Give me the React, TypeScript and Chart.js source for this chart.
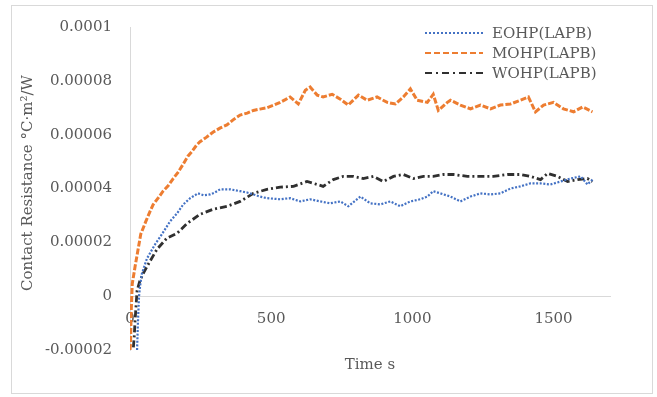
import React, { useEffect, useRef } from 'react';
import { Chart, registerables } from 'chart.js';

Chart.register(...registerables);

// Time (s) and contact resistance (°C·m²/W)
const timeEOHP = [25, 28, 32, 36, 42, 60, 89, 113, 142, 167, 188, 213, 241, 260, 284, 300, 319, 355, 390, 415, 437, 460, 485, 532, 567, 603, 638, 674, 709, 745, 773, 816, 851, 887, 922, 957, 993, 1028, 1053, 1074, 1099, 1135, 1170, 1206, 1241, 1277, 1312, 1348, 1383, 1418, 1454, 1489, 1525, 1560, 1596, 1620, 1638];
const valuesEOHP = [-2.0e-5, -1.0e-5, 0, 0.4e-5, 0.83e-5, 1.4e-5, 1.93e-5, 2.3e-5, 2.78e-5, 3.08e-5, 3.4e-5, 3.64e-5, 3.82e-5, 3.75e-5, 3.78e-5, 3.85e-5, 3.97e-5, 3.97e-5, 3.9e-5, 3.85e-5, 3.78e-5, 3.7e-5, 3.64e-5, 3.6e-5, 3.64e-5, 3.52e-5, 3.6e-5, 3.52e-5, 3.45e-5, 3.52e-5, 3.34e-5, 3.7e-5, 3.45e-5, 3.41e-5, 3.52e-5, 3.34e-5, 3.52e-5, 3.6e-5, 3.7e-5, 3.9e-5, 3.82e-5, 3.7e-5, 3.52e-5, 3.7e-5, 3.82e-5, 3.78e-5, 3.82e-5, 4.0e-5, 4.08e-5, 4.19e-5, 4.19e-5, 4.15e-5, 4.26e-5, 4.37e-5, 4.45e-5, 4.15e-5, 4.33e-5];

const timeMOHP = [0, 2, 4, 8, 18, 38, 55, 71, 82, 100, 117, 135, 153, 170, 188, 205, 219, 235, 248, 270, 295, 320, 343, 365, 390, 415, 437, 460, 485, 510, 532, 550, 567, 596, 621, 638, 663, 684, 716, 745, 773, 809, 840, 875, 911, 940, 968, 993, 1017, 1053, 1074, 1092, 1124, 1135, 1170, 1206, 1241, 1277, 1312, 1348, 1383, 1411, 1436, 1465, 1500, 1535, 1571, 1603, 1638];
const valuesMOHP = [-2.0e-5, -1.75e-5, -0.65e-5, 0.46e-5, 1.1e-5, 2.3e-5, 2.75e-5, 3.15e-5, 3.4e-5, 3.65e-5, 3.9e-5, 4.1e-5, 4.37e-5, 4.6e-5, 4.9e-5, 5.2e-5, 5.37e-5, 5.6e-5, 5.74e-5, 5.9e-5, 6.1e-5, 6.25e-5, 6.36e-5, 6.55e-5, 6.73e-5, 6.8e-5, 6.9e-5, 6.95e-5, 7.0e-5, 7.1e-5, 7.2e-5, 7.3e-5, 7.4e-5, 7.14e-5, 7.65e-5, 7.77e-5, 7.47e-5, 7.4e-5, 7.5e-5, 7.32e-5, 7.1e-5, 7.47e-5, 7.28e-5, 7.4e-5, 7.2e-5, 7.14e-5, 7.4e-5, 7.7e-5, 7.28e-5, 7.2e-5, 7.5e-5, 6.9e-5, 7.2e-5, 7.28e-5, 7.1e-5, 6.96e-5, 7.1e-5, 6.96e-5, 7.1e-5, 7.14e-5, 7.28e-5, 7.4e-5, 6.85e-5, 7.1e-5, 7.2e-5, 6.96e-5, 6.85e-5, 7.03e-5, 6.85e-5];

const timeWOHP = [12, 15, 18, 25, 35, 46, 71, 96, 131, 167, 202, 248, 295, 344, 390, 437, 485, 532, 579, 627, 663, 684, 720, 755, 791, 826, 862, 897, 933, 968, 1004, 1039, 1074, 1110, 1145, 1195, 1241, 1287, 1337, 1383, 1418, 1454, 1479, 1514, 1550, 1585, 1620, 1638];
const valuesWOHP = [-1.9e-5, -1.5e-5, -0.9e-5, 0.2e-5, 0.57e-5, 0.83e-5, 1.3e-5, 1.75e-5, 2.16e-5, 2.34e-5, 2.7e-5, 3.04e-5, 3.23e-5, 3.34e-5, 3.52e-5, 3.82e-5, 3.97e-5, 4.05e-5, 4.08e-5, 4.26e-5, 4.15e-5, 4.08e-5, 4.33e-5, 4.45e-5, 4.45e-5, 4.37e-5, 4.45e-5, 4.26e-5, 4.45e-5, 4.52e-5, 4.37e-5, 4.45e-5, 4.45e-5, 4.52e-5, 4.52e-5, 4.45e-5, 4.45e-5, 4.45e-5, 4.52e-5, 4.52e-5, 4.45e-5, 4.33e-5, 4.56e-5, 4.45e-5, 4.26e-5, 4.33e-5, 4.37e-5, 4.26e-5];

const seriesNames = ['EOHP(LAPB)', 'MOHP(LAPB)', 'WOHP(LAPB)'];
const xTickValues = [0, 500, 1000, 1500];
const yTickLabels = ['-0.00002', '0', '0.00002', '0.00004', '0.00006', '0.00008', '0.0001'];
const xTitle = 'Time s';
const yTitle = 'Contact Resistance °C·m²/W';

const FONT = '"DejaVu Serif", serif';
const TEXT = '#595959';
const AXIS = '#d9d9d9';

const colors = ['#4472C4', '#ED7D31', '#303030'];
const dashes = [[2, 1.6], [6, 2], [7, 3, 2, 3]];
const widths = [2.2, 3, 2.8];
const legendDashes = [[2, 2], [6, 3], [7, 4, 2, 4]];

const toPoints = (t: number[], v: number[]) => t.map((x, i) => ({ x, y: v[i] }));

const decorPlugin = {
  id: 'decor',
  beforeDraw(chart: any) {
    const ctx = chart.ctx;
    ctx.save();
    ctx.fillStyle = '#ffffff';
    ctx.fillRect(0, 0, chart.width, chart.height);
    ctx.strokeStyle = AXIS;
    ctx.lineWidth = 1;
    ctx.strokeRect(11.5, 5.5, 641, 388);
    ctx.restore();
  },
  afterDraw(chart: any) {
    const ctx = chart.ctx;
    const area = chart.chartArea;
    ctx.save();
    ctx.font = `15px ${FONT}`;
    ctx.fillStyle = TEXT;
    // legend
    seriesNames.forEach((name, i) => {
      const y = 33 + i * 20;
      ctx.save();
      ctx.strokeStyle = colors[i];
      ctx.lineWidth = 2;
      ctx.setLineDash(legendDashes[i]);
      ctx.beginPath();
      ctx.moveTo(425, y);
      ctx.lineTo(483, y);
      ctx.stroke();
      ctx.restore();
      ctx.textAlign = 'left';
      ctx.textBaseline = 'middle';
      ctx.fillText(name, 492, y + 1);
    });
    // x title
    ctx.textAlign = 'center';
    ctx.textBaseline = 'middle';
    ctx.fillText(xTitle, (area.left + area.right) / 2, 365);
    // y title
    ctx.translate(28, 183);
    ctx.rotate(-Math.PI / 2);
    ctx.fillText(yTitle, 0, 0);
    ctx.restore();
  },
};

export default function App() {
  const ref = useRef<HTMLCanvasElement>(null);
  useEffect(() => {
    document.body.style.margin = '0';
    const canvas = ref.current;
    if (!canvas) return;
    const chart = new Chart(canvas, {
      type: 'line',
      data: {
        datasets: [
          { label: seriesNames[0], data: toPoints(timeEOHP, valuesEOHP) },
          { label: seriesNames[1], data: toPoints(timeMOHP, valuesMOHP) },
          { label: seriesNames[2], data: toPoints(timeWOHP, valuesWOHP) },
        ].map((d, i) => ({
          ...d,
          borderColor: colors[i],
          backgroundColor: colors[i],
          borderWidth: widths[i],
          borderDash: dashes[i],
          pointRadius: 0,
          tension: 0,
          fill: false,
        })),
      },
      options: {
        responsive: false,
        animation: false,
        layout: { padding: { left: 12, top: 25, right: 47, bottom: 47 } },
        plugins: { legend: { display: false }, tooltip: { enabled: false } },
        scales: {
          x: {
            type: 'linear',
            min: 0,
            max: 1700,
            position: { y: 0 } as any,
            grid: { display: false, drawTicks: false },
            border: { display: true, color: AXIS, width: 1 },
            afterBuildTicks: (scale: any) => {
              scale.ticks = xTickValues.map((value) => ({ value }));
            },
            ticks: {
              autoSkip: false,
              padding: 14,
              color: TEXT,
              font: { family: FONT, size: 15 },
              maxRotation: 0,
              callback: (v: any) => String(v),
            },
          },
          y: {
            type: 'linear',
            min: -0.00002,
            max: 0.0001,
            grid: { display: false, drawTicks: false },
            border: { display: true, color: AXIS, width: 1 },
            afterFit: (scale: any) => {
              scale.width = 118;
            },
            ticks: {
              stepSize: 0.00002,
              padding: 18,
              color: TEXT,
              font: { family: FONT, size: 15 },
              callback: (_v: any, i: number) => yTickLabels[i],
            },
          },
        },
      },
      plugins: [decorPlugin],
    });
    return () => chart.destroy();
  }, []);
  return (
    <div style={{ position: 'absolute', left: 0, top: 0, width: 657, height: 397 }}>
      <canvas ref={ref} width={657} height={397} style={{ width: 657, height: 397 }} />
    </div>
  );
}
